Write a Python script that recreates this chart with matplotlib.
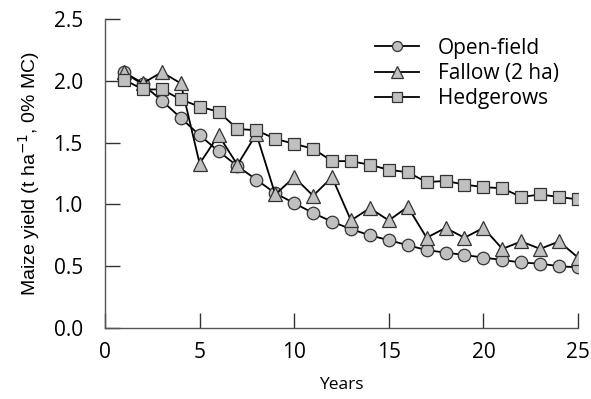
import matplotlib
matplotlib.use("Agg")
import matplotlib.pyplot as plt

plt.rcParams['font.family'] = ['Open Sans', 'DejaVu Sans']

years = list(range(1, 26))
open_field = [2.07, 1.97, 1.84, 1.70, 1.56, 1.43, 1.31, 1.20, 1.09, 1.01, 0.93, 0.86, 0.80,
              0.75, 0.71, 0.67, 0.63, 0.61, 0.59, 0.57, 0.55, 0.53, 0.52, 0.50, 0.49]
fallow = [2.07, 1.98, 2.07, 1.98, 1.33, 1.56, 1.32, 1.57, 1.08, 1.22, 1.07, 1.22, 0.87,
          0.97, 0.87, 0.98, 0.73, 0.81, 0.73, 0.81, 0.64, 0.70, 0.64, 0.70, 0.57]
hedgerows = [2.01, 1.93, 1.93, 1.85, 1.79, 1.75, 1.61, 1.60, 1.53, 1.49, 1.45, 1.35, 1.35,
             1.32, 1.28, 1.26, 1.18, 1.19, 1.16, 1.14, 1.13, 1.06, 1.08, 1.06, 1.04]
labels = ["Open-field", "Fallow (2 ha)", "Hedgerows"]

fig = plt.figure(figsize=(5.91, 3.99), dpi=100)
ax = fig.add_axes([0.1777, 0.178, 0.8003, 0.7744])

style = dict(color='black', lw=1.3, markersize=9, markerfacecolor='#c0c0c0',
             markeredgecolor='#333333', markeredgewidth=0.9)
ax.plot(years, open_field, marker='o', label=labels[0], **style)
ax.plot(years, fallow, marker='^', label=labels[1], **{**style, 'markersize': 10})
ax.plot(years, hedgerows, marker='s', label=labels[2], **style)

ax.set_xlim(0, 25)
ax.set_ylim(0, 2.5)
ax.set_xticks([0, 5, 10, 15, 20, 25])
ax.set_yticks([0.0, 0.5, 1.0, 1.5, 2.0, 2.5])
ax.set_yticklabels(["0.0", "0.5", "1.0", "1.5", "2.0", "2.5"])
for s in ['top', 'right']:
    ax.spines[s].set_visible(False)
for s in ['left', 'bottom']:
    ax.spines[s].set_color('#555555')
    ax.spines[s].set_linewidth(1.0)
ax.tick_params(direction='in', length=11, width=1.0, color='#333333', labelsize=15)
ax.tick_params(axis='y', pad=16)
ax.tick_params(axis='x', pad=10)
ax.set_xlabel("Years", fontsize=12.5, labelpad=10)
ax.set_ylabel("Maize yield (t ha$^{-1}$, 0% MC)", fontsize=14, labelpad=8,
              family=['Liberation Sans', 'DejaVu Sans'])

leg = ax.legend(loc='upper right', frameon=False, fontsize=15, handlelength=2.15,
                handletextpad=0.9, labelspacing=0.2, bbox_to_anchor=(1.0, 1.0),
                markerscale=0.8)

fig.savefig("out.png", dpi=100)
